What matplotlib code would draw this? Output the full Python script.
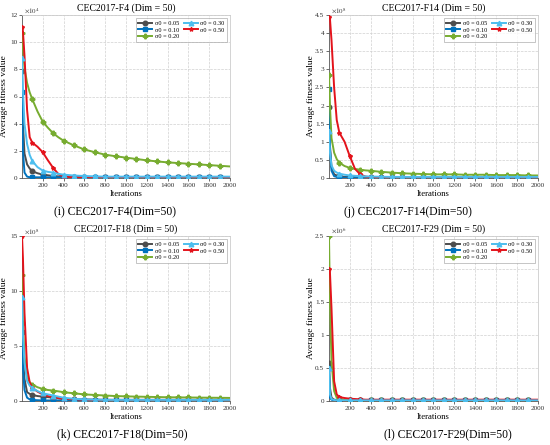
import matplotlib
matplotlib.use('Agg')
import matplotlib.pyplot as plt
import numpy as np

plt.rcParams['font.family'] = ['Liberation Serif', 'DejaVu Serif']
plt.rcParams['mathtext.fontset'] = 'stix'

iters = [1, 10, 25, 50, 75, 100, 150, 200, 250, 300, 350, 400, 500, 600, 700,
         800, 900, 1000, 1100, 1200, 1300, 1400, 1500, 1600, 1700, 1800, 1900, 2000]

labels = ['σ0 = 0.05', 'σ0 = 0.10', 'σ0 = 0.20', 'σ0 = 0.30', 'σ0 = 0.50']
colors = ['#4d4d4d', '#0072bd', '#77ac30', '#4dbeee', '#e3131b']
markers = ['o', 's', 'P', '^', '*']
zorders = [3, 3, 3, 5, 4]

# F4, values x 1e4
f4_005 = [7.9, 4.0, 1.8, 1.0, 0.7, 0.5, 0.35, 0.25, 0.2, 0.15, 0.12, 0.1, 0.08, 0.07, 0.06,
          0.06, 0.05, 0.05, 0.05, 0.05, 0.05, 0.05, 0.05, 0.05, 0.05, 0.05, 0.05, 0.05]
f4_010 = [6.3, 2.0, 0.4, 0.1, 0.06, 0.05, 0.05, 0.05, 0.05, 0.05, 0.05, 0.05, 0.05, 0.05, 0.05,
          0.05, 0.05, 0.05, 0.05, 0.05, 0.05, 0.05, 0.05, 0.05, 0.05, 0.05, 0.05, 0.05]
f4_020 = [10.7, 9.6, 8.1, 7.0, 6.3, 5.8, 4.9, 4.15, 3.7, 3.3, 3.0, 2.75, 2.4, 2.1, 1.9,
          1.72, 1.6, 1.5, 1.4, 1.3, 1.22, 1.15, 1.1, 1.05, 1.0, 0.95, 0.9, 0.85]
f4_030 = [8.8, 6.5, 4.0, 2.5, 1.7, 1.25, 0.8, 0.55, 0.45, 0.4, 0.3, 0.25, 0.18, 0.15, 0.12,
          0.1, 0.1, 0.1, 0.1, 0.1, 0.1, 0.1, 0.1, 0.1, 0.1, 0.1, 0.1, 0.1]
f4_050 = [11.1, 10.8, 9.0, 5.0, 3.0, 2.6, 2.3, 1.9, 1.3, 0.75, 0.3, 0.1, 0.05, 0.04, 0.04,
          0.04, 0.04, 0.04, 0.04, 0.04, 0.04, 0.04, 0.04, 0.04, 0.04, 0.04, 0.04, 0.04]

# F14, values x 1e8
f14_005 = [1.95, 0.9, 0.3, 0.1, 0.07, 0.05, 0.03, 0.02, 0.02, 0.02, 0.02, 0.02, 0.02, 0.02, 0.02,
           0.02, 0.02, 0.02, 0.02, 0.02, 0.02, 0.02, 0.02, 0.02, 0.02, 0.02, 0.02, 0.02]
f14_010 = [2.45, 0.8, 0.2, 0.05, 0.03, 0.02, 0.01, 0.01, 0.01, 0.01, 0.01, 0.01, 0.01, 0.01, 0.01,
           0.01, 0.01, 0.01, 0.01, 0.01, 0.01, 0.01, 0.01, 0.01, 0.01, 0.01, 0.01, 0.01]
f14_020 = [2.85, 2.0, 1.1, 0.7, 0.52, 0.42, 0.33, 0.28, 0.25, 0.23, 0.21, 0.2, 0.17, 0.15, 0.13,
           0.12, 0.11, 0.1, 0.1, 0.1, 0.09, 0.09, 0.09, 0.08, 0.08, 0.08, 0.07, 0.07]
f14_030 = [1.3, 0.7, 0.35, 0.2, 0.15, 0.12, 0.09, 0.07, 0.06, 0.05, 0.045, 0.04, 0.035, 0.03, 0.03,
           0.03, 0.03, 0.03, 0.03, 0.03, 0.03, 0.03, 0.03, 0.03, 0.03, 0.03, 0.03, 0.03]
f14_050 = [4.45, 4.4, 3.8, 2.5, 1.6, 1.25, 1.0, 0.6, 0.25, 0.1, 0.04, 0.02, 0.01, 0.01, 0.01,
           0.01, 0.01, 0.01, 0.01, 0.01, 0.01, 0.01, 0.01, 0.01, 0.01, 0.01, 0.01, 0.01]

# F18, values x 1e8
f18_005 = [7.1, 4.0, 2.0, 0.8, 0.65, 0.55, 0.45, 0.4, 0.35, 0.3, 0.25, 0.2, 0.15, 0.13, 0.12,
           0.11, 0.1, 0.1, 0.1, 0.1, 0.1, 0.1, 0.1, 0.1, 0.1, 0.1, 0.1, 0.1]
f18_010 = [6.3, 3.0, 1.0, 0.3, 0.15, 0.1, 0.07, 0.05, 0.05, 0.05, 0.05, 0.05, 0.05, 0.05, 0.05,
           0.05, 0.05, 0.05, 0.05, 0.05, 0.05, 0.05, 0.05, 0.05, 0.05, 0.05, 0.05, 0.05]
f18_020 = [11.5, 7.0, 4.0, 2.2, 1.7, 1.5, 1.25, 1.1, 1.0, 0.95, 0.88, 0.8, 0.7, 0.6, 0.55,
           0.5, 0.45, 0.42, 0.4, 0.38, 0.36, 0.34, 0.33, 0.32, 0.31, 0.3, 0.29, 0.28]
f18_030 = [9.5, 6.0, 3.5, 1.8, 1.4, 1.2, 0.9, 0.7, 0.6, 0.5, 0.4, 0.3, 0.2, 0.15, 0.12,
           0.1, 0.1, 0.1, 0.1, 0.1, 0.1, 0.1, 0.1, 0.1, 0.1, 0.1, 0.1, 0.1]
f18_050 = [15.0, 13.0, 8.0, 3.0, 1.7, 1.2, 0.85, 0.6, 0.45, 0.35, 0.27, 0.2, 0.15, 0.12, 0.1,
           0.1, 0.1, 0.1, 0.1, 0.1, 0.1, 0.1, 0.1, 0.1, 0.1, 0.1, 0.1, 0.1]

# F29, values x 1e6
f29_005 = [0.58, 0.2, 0.05, 0.02, 0.015, 0.012, 0.01, 0.01, 0.01, 0.01, 0.01, 0.01, 0.01, 0.01, 0.01,
           0.01, 0.01, 0.01, 0.01, 0.01, 0.01, 0.01, 0.01, 0.01, 0.01, 0.01, 0.01, 0.01]
f29_010 = [0.5, 0.05, 0.02, 0.01, 0.01, 0.01, 0.01, 0.01, 0.01, 0.01, 0.01, 0.01, 0.01, 0.01, 0.01,
           0.01, 0.01, 0.01, 0.01, 0.01, 0.01, 0.01, 0.01, 0.01, 0.01, 0.01, 0.01, 0.01]
f29_020 = [2.5, 1.5, 0.6, 0.15, 0.05, 0.03, 0.02, 0.015, 0.01, 0.01, 0.01, 0.01, 0.01, 0.01, 0.01,
           0.01, 0.01, 0.01, 0.01, 0.01, 0.01, 0.01, 0.01, 0.01, 0.01, 0.01, 0.01, 0.01]
f29_030 = [0.5, 0.1, 0.03, 0.015, 0.01, 0.01, 0.01, 0.01, 0.01, 0.01, 0.01, 0.01, 0.01, 0.01, 0.01,
           0.01, 0.01, 0.01, 0.01, 0.01, 0.01, 0.01, 0.01, 0.01, 0.01, 0.01, 0.01, 0.01]
f29_050 = [2.0, 1.95, 1.4, 0.3, 0.1, 0.06, 0.045, 0.035, 0.03, 0.025, 0.02, 0.02, 0.02, 0.02, 0.02,
           0.02, 0.02, 0.02, 0.02, 0.02, 0.02, 0.02, 0.02, 0.02, 0.02, 0.02, 0.02, 0.02]

panels = [
    ('CEC2017-F4 (Dim = 50)', '(i) CEC2017-F4(Dim=50)', 4, np.arange(0, 12.1, 2), 12,
     [f4_005, f4_010, f4_020, f4_030, f4_050]),
    ('CEC2017-F14 (Dim = 50)', '(j) CEC2017-F14(Dim=50)', 8, np.arange(0, 4.51, 0.5), 4.5,
     [f14_005, f14_010, f14_020, f14_030, f14_050]),
    ('CEC2017-F18 (Dim = 50)', '(k) CEC2017-F18(Dim=50)', 8, np.arange(0, 15.1, 5), 15,
     [f18_005, f18_010, f18_020, f18_030, f18_050]),
    ('CEC2017-F29 (Dim = 50)', '(l) CEC2017-F29(Dim=50)', 6, np.arange(0, 2.51, 0.5), 2.5,
     [f29_005, f29_010, f29_020, f29_030, f29_050]),
]

W, H = 550, 445
# axes boxes in pixels: left, top, right, bottom
boxes = [(22, 15, 230, 178), (329, 15, 538, 178), (22, 236, 230, 401), (329, 236, 538, 401)]
captions_xy = [(115, 212), (408, 212), (122, 434), (448, 434)]

fig = plt.figure(figsize=(W / 100, H / 100), dpi=100)

mark_idx = [i for i, it in enumerate(iters) if (it == 1 or it % 100 == 0) and it < 2000]

for (title, caption, expo, yticks, ymax, series), box, cxy in zip(panels, boxes, captions_xy):
    l, t, r, b = box
    ax = fig.add_axes([l / W, 1 - b / H, (r - l) / W, (b - t) / H])
    for vals, lab, c, m, z in zip(series, labels, colors, markers, zorders):
        ms = 3 if m == '*' else 3.3
        ax.plot(iters, vals, color=c, lw=1.4, marker=m, ms=ms, markevery=mark_idx,
                label=lab, zorder=z)
    ax.set_xlim(1, 2000)
    ax.set_ylim(0, ymax)
    ax.set_xticks(range(200, 2001, 200))
    ax.set_yticks(yticks)
    ax.set_yticklabels(['%g' % v for v in yticks])
    ax.tick_params(labelsize=5.2, length=2, width=0.5, pad=1.5, colors='#333333')
    ax.grid(True, ls='--', lw=0.5, color='#d0d0d0')
    for s in ['top', 'right']:
        ax.spines[s].set_color('#cccccc')
    for s in ['left', 'bottom']:
        ax.spines[s].set_color('#555555')
    for s in ax.spines.values():
        s.set_linewidth(0.6)
    ax.set_title(title, fontsize=7, pad=3)
    ax.set_xlabel('Iterations', fontsize=6.2, labelpad=1.5)
    ax.set_ylabel('Average fitness value', fontsize=6.8)
    ax.yaxis.set_label_coords(-0.068, 0.5)
    ax.text(0.01, 1.0, r'$\times10^{%d}$' % expo, transform=ax.transAxes,
            fontsize=5, va='bottom', ha='left', color='#333333')
    leg = ax.legend(loc='upper right', ncol=2, fontsize=4.5, frameon=True, fancybox=False,
                    handlelength=2.2, columnspacing=0.8, handletextpad=0.4,
                    borderpad=0.4, labelspacing=0.2)
    leg.get_frame().set_linewidth(0.5)
    leg.get_frame().set_edgecolor('#999999')
    fig.text(cxy[0] / W, 1 - cxy[1] / H, caption, fontsize=8.4, ha='center', va='center')

fig.savefig('out.png', dpi=100)
